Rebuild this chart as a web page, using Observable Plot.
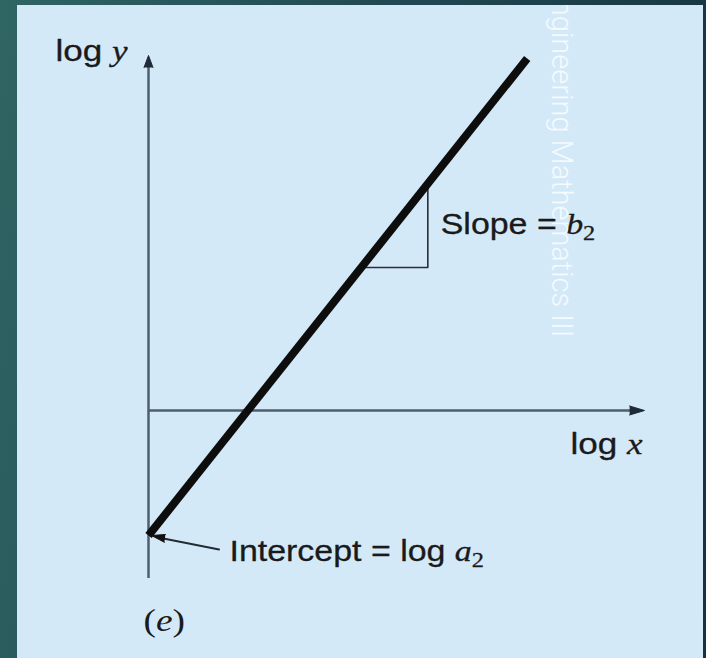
<!DOCTYPE html>
<html>
<head>
<meta charset="utf-8">
<script src="https://cdn.jsdelivr.net/npm/d3@7"></script>
<script src="https://cdn.jsdelivr.net/npm/@observablehq/plot@0.6"></script>
<style>
  html, body { margin: 0; padding: 0; }
  body {
    width: 706px; height: 658px; overflow: hidden;
    background: linear-gradient(100deg, #2f6563 0%, #214a55 45%, #163240 100%);
  }
  #chart { position: absolute; left: 17px; top: 5px; }
</style>
</head>
<body>
<div id="chart"></div>
<script>
// ---- data (in "log" units; origin at the axes crossing) ----
const intercept = -1.25;          // log a2
const slope = 1.25;               // b2
const lineX = [0, 3.81];
const lineY = [-1.25, 3.52];

const triX = [2.14, 2.81, 2.81];
const triY = [1.43, 1.43, 2.26];

const yAxisRange = [-1.68, 3.44];
const xAxisRange = [0, 4.85];

const yHeadX = [-0.045, 0, 0.045];
const yHeadY = [3.43, 3.55, 3.43];
const xHeadX = [4.84, 4.99, 4.84];
const xHeadY = [0.045, 0, -0.045];

const icptShaftX = [0.71, 0.15];
const icptShaftY = [-1.39, -1.28];
const icptHeadX = [0.17, 0.03, 0.16];
const icptHeadY = [-1.24, -1.25, -1.318];

const labelText = ["log y", "Slope = b2", "log x", "Intercept = log a2", "(e)"];
const labelX = [-0.936, 2.94, 4.245, 0.815, -0.05];
const labelY = [3.50, 1.77, -0.43, -1.50, -2.20];
const labelSize = [30, 29, 30, 29, 32];
const labelBold = [0.3, 0.3, 0.3, 0.3, 0];
const labelParts = [
  [["log ", "s"], ["y", "i"]],
  [["Slope = ", "s"], ["b", "i"], ["2", "sub"]],
  [["log ", "s"], ["x", "i"]],
  [["Intercept = log ", "s"], ["a", "i"], ["2", "sub"]],
  [["(", "r"], ["e", "i"], [")", "r"]]
];

const watermarkText = ["Engineering Mathematics III"];
const watermarkX = [4.15];
const watermarkY = [0.73];

// ---- build tables ----
const pts = (xs, ys) => xs.map((x, i) => ({x, y: ys[i]}));
const labels = labelText.map((t, i) => ({t, x: labelX[i], y: labelY[i]}));
const wm = watermarkText.map((t, i) => ({t, x: watermarkX[i], y: watermarkY[i]}));

const axisColor = "#4f5e6c";
const ink = "#1a1a1a";

const chart = Plot.plot({
  width: 686,
  height: 653,
  margin: 0,
  x: {domain: [0, 5], range: [131, 628], axis: null},
  y: {domain: [0, 3.5], range: [405, 55], axis: null},
  style: {background: "#d4e9f8", overflow: "hidden"},
  marks: [
    Plot.ruleX([0], {y1: yAxisRange[0], y2: yAxisRange[1], stroke: axisColor, strokeWidth: 2.5}),
    Plot.ruleY([0], {x1: xAxisRange[0], x2: xAxisRange[1], stroke: axisColor, strokeWidth: 2.5}),
    Plot.line(pts(yHeadX, yHeadY), {x: "x", y: "y", fill: "#1e2a36", stroke: "#1e2a36", strokeWidth: 1}),
    Plot.line(pts(xHeadX, xHeadY), {x: "x", y: "y", fill: "#1e2a36", stroke: "#1e2a36", strokeWidth: 1}),
    Plot.line(pts(triX, triY), {x: "x", y: "y", stroke: "#2a2f36", strokeWidth: 1.6}),
    Plot.line(pts(lineX, lineY), {x: "x", y: "y", stroke: "#0d0d0d", strokeWidth: 8, strokeLinecap: "butt"}),
    Plot.line(pts(icptShaftX, icptShaftY), {x: "x", y: "y", stroke: "#222a33", strokeWidth: 1.8}),
    Plot.line(pts(icptHeadX, icptHeadY), {x: "x", y: "y", fill: "#111", stroke: "#111", strokeWidth: 1}),
    Plot.text(labels, {x: "x", y: "y", text: "t", textAnchor: "start", lineAnchor: "bottom",
      fill: ink, stroke: ink, strokeWidth: 0.3, fontFamily: "'Liberation Sans', Arial, sans-serif", fontSize: 28}),
    Plot.text(wm, {x: "x", y: "y", text: "t", rotate: 90, textAnchor: "end", lineAnchor: "middle",
      fill: "#ffffff", fillOpacity: 0.78, fontFamily: "Roboto, 'Open Sans', sans-serif",
      fontWeight: 300, fontSize: 29})
  ]
});

// ---- rich text: mixed sans / italic serif / subscripts, slight horizontal stretch ----
const sx = 1.17;
chart.querySelectorAll("text").forEach(t => {
  const k = labelText.indexOf(t.textContent);
  if (k < 0) return;
  t.setAttribute("font-size", labelSize[k]);
  t.setAttribute("stroke-width", labelBold[k]);
  if (!labelBold[k]) t.setAttribute("stroke", "none");
  let tr = t.getAttribute("transform") || "";
  const ax = t.getAttribute("x"), ay = t.getAttribute("y");
  if (ax !== null || ay !== null) {
    tr = `translate(${+ax || 0},${+ay || 0}) ` + tr;
    t.removeAttribute("x"); t.removeAttribute("y");
  }
  t.setAttribute("transform", tr + ` scale(${sx},1)`);
  t.textContent = "";
  let shifted = false;
  labelParts[k].forEach(([s, kind]) => {
    const sp = document.createElementNS("http://www.w3.org/2000/svg", "tspan");
    sp.textContent = s;
    if (kind === "i" || kind === "r") {
      sp.setAttribute("font-family", "'Liberation Serif', 'Times New Roman', serif");
      if (kind === "i") sp.setAttribute("font-style", "italic");
    }
    if (kind === "sub") {
      sp.setAttribute("font-family", "'Liberation Serif', 'Times New Roman', serif");
      sp.setAttribute("font-size", "0.72em");
      sp.setAttribute("dy", "0.3em");
      shifted = true;
    } else if (shifted) {
      sp.setAttribute("dy", "-0.3em");
      shifted = false;
    }
    t.appendChild(sp);
  });
});

document.getElementById("chart").appendChild(chart);
</script>
</body>
</html>
